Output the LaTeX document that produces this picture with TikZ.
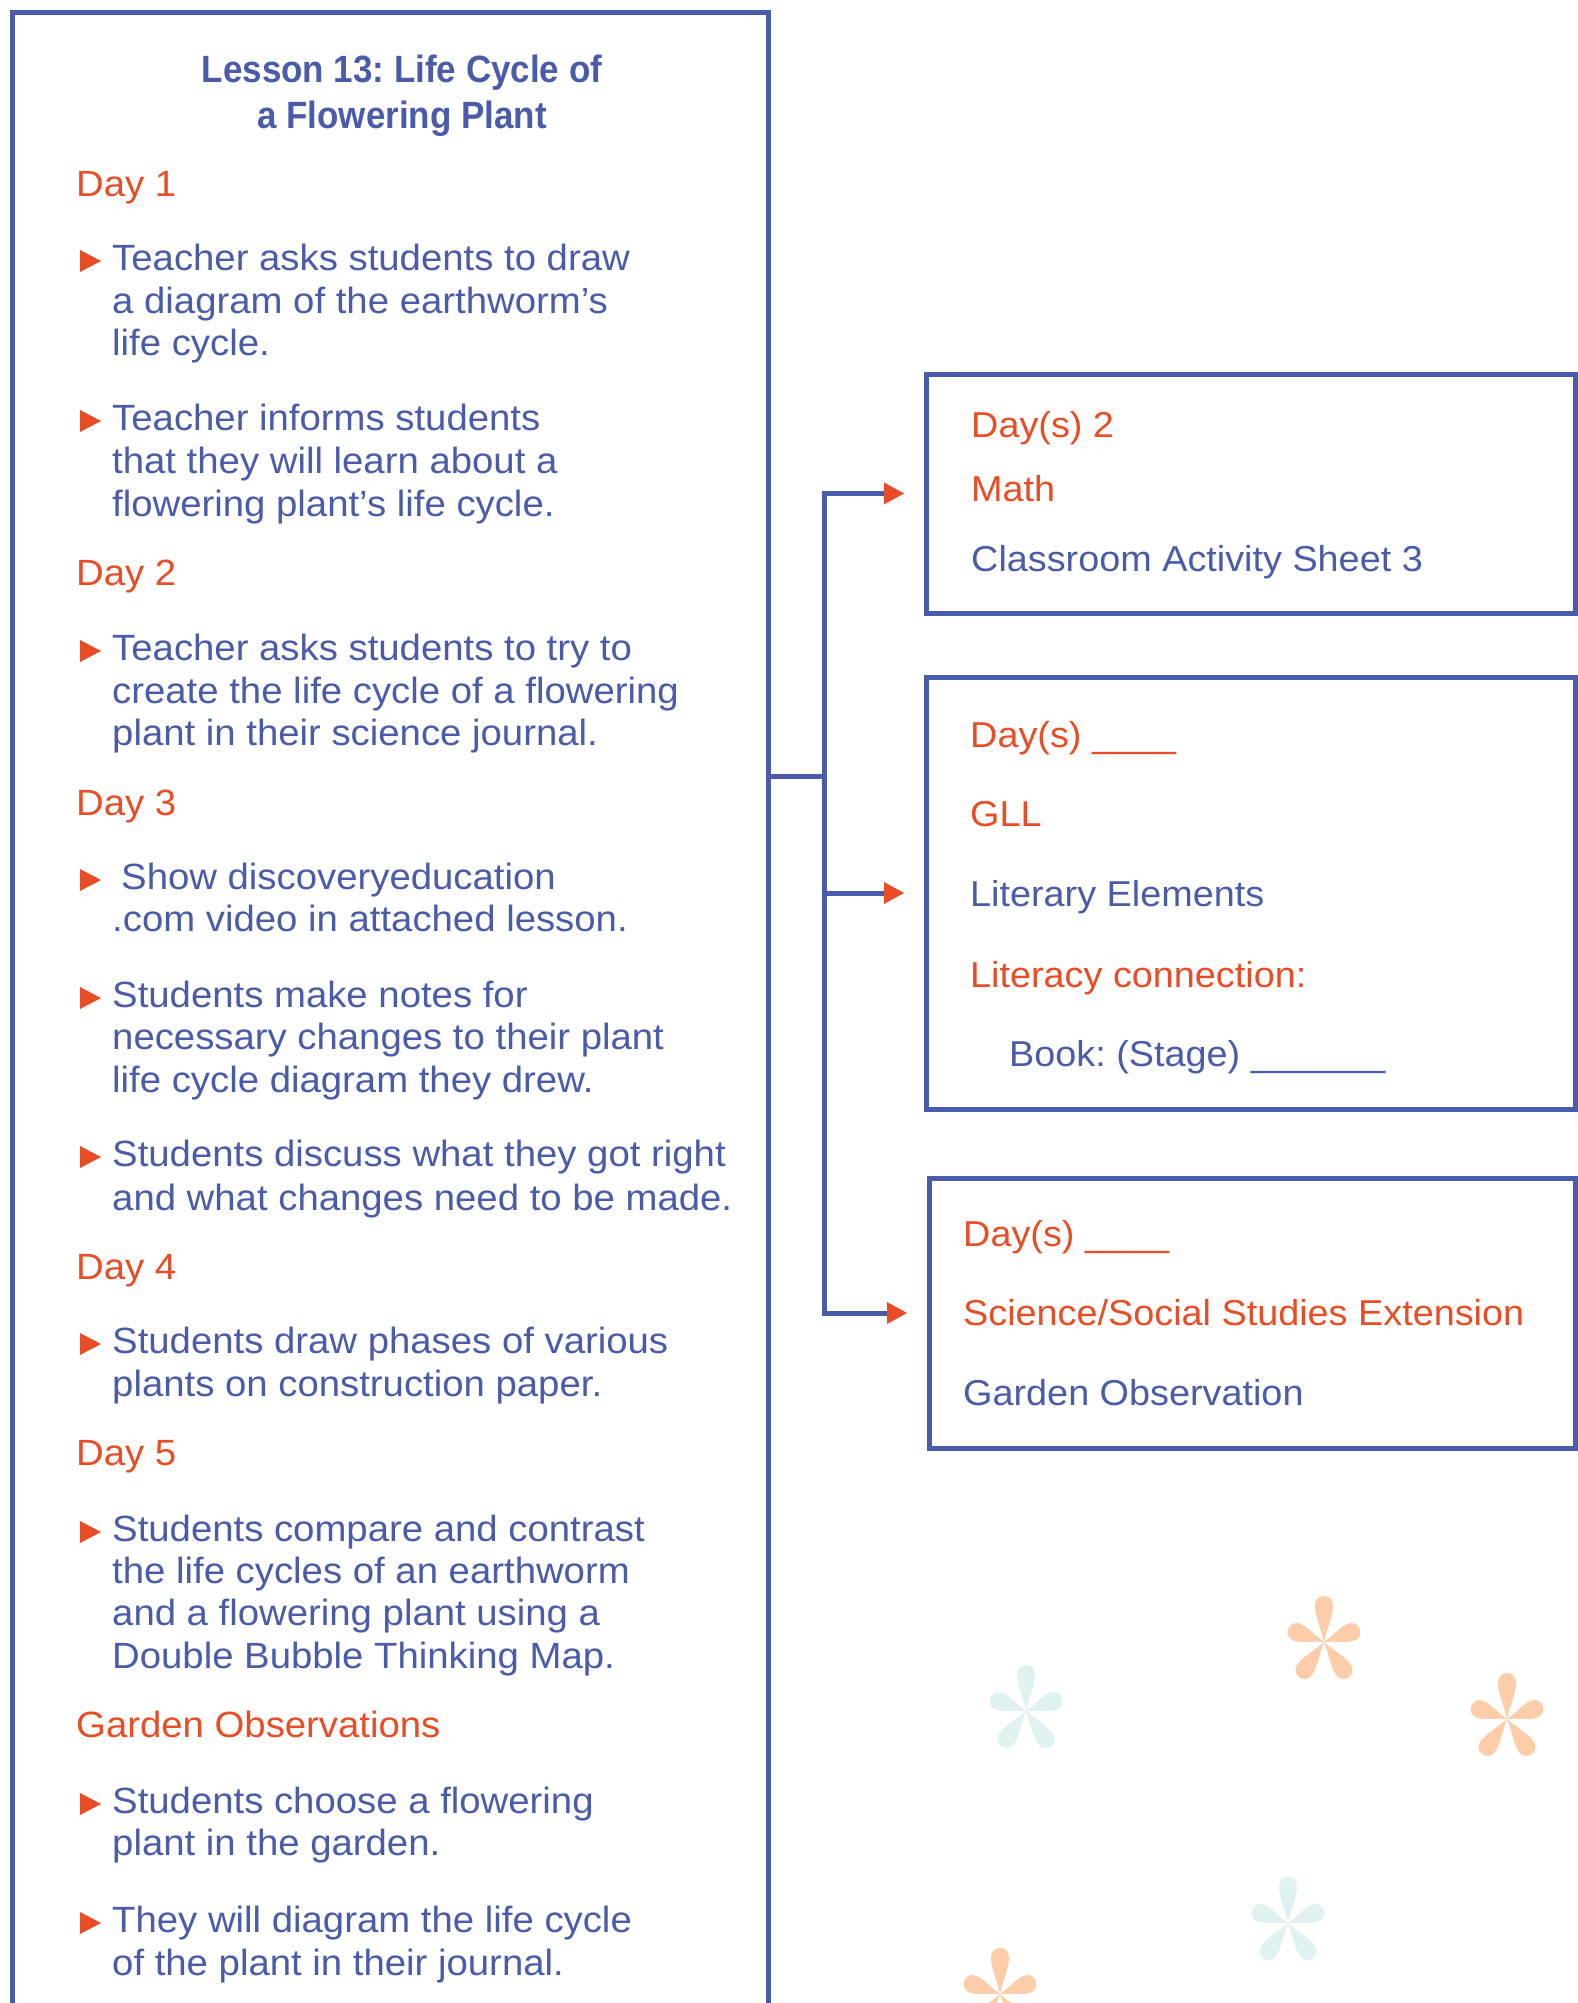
\documentclass[tikz,border=0pt]{standalone}
\usepackage{fontspec}
\newfontfamily\bodyfont{Liberation Sans}[FakeStretch=1.05]
\newfontfamily\titlefont{Liberation Sans}[FakeStretch=0.92]
\usetikzlibrary{arrows.meta}
\frenchspacing

\definecolor{ink}{HTML}{4A5BA9}
\definecolor{accent}{HTML}{E84D25}
\definecolor{peach}{HTML}{FCCDA8}
\definecolor{mint}{HTML}{DFF1F1}

\tikzset{
  frame/.style={draw=ink, line width=5pt, rectangle, inner sep=0pt, outer sep=0pt},
  title/.style={anchor=base, inner sep=0pt, text=ink,
    font=\titlefont\bfseries\fontsize{38}{46}\selectfont},
  body/.style={anchor=base west, inner sep=0pt, text=ink,
    font=\bodyfont\fontsize{36.5}{43}\selectfont},
  dayhead/.style={body, text=accent},
  boxtext/.style={anchor=base west, inner sep=0pt, text=ink,
    font=\bodyfont\fontsize{36}{43}\selectfont},
  boxhead/.style={boxtext, text=accent},
  link/.style={draw=ink, line width=5pt},
  feed/.style={link, shorten >=22pt,
    -{Triangle[length=20pt, width=22pt, line width=0pt, color=accent, fill=accent]}},
  % five rounded petals: long top arm, shorter side and lower arms
  asterisk/.pic={
    \foreach \a/\l in {0/46, -70/38, 70/38, -145/43, 145/43}
      \fill[#1, rotate=\a] (0,0) .. controls (-3,{-0.3*\l}) and (-9,{-0.55*\l}) .. (-9,{9-\l})
        .. controls (-9,{-\l-3}) and (9,{-\l-3}) .. (9,{9-\l})
        .. controls (9,{-0.55*\l}) and (3,{-0.3*\l}) .. (0,0) -- cycle;
  },
}

\newcommand{\blank}[1]{\scalebox{0.8}[1]{#1}}

\begin{document}
\begin{tikzpicture}[x=1pt, y=-1pt]
  \useasboundingbox (0,0) rectangle (1578,2003);
  \fill[white] (0,0) rectangle (1578,2003);
  \clip (0,0) rectangle (1578,2003);

  % decorative asterisks
  \pic at (1324,1642) {asterisk=peach};
  \pic at (1507,1719) {asterisk=peach};
  \pic at (1026,1711) {asterisk=mint};
  \pic at (1288,1923) {asterisk=mint};
  \pic at (1000,1994) {asterisk=peach};

  % lesson column
  \node[frame, minimum width=756pt, minimum height=2028pt] (L) at (390,1026) {};
  \node[title] (t1) at (402,82) {Lesson 13: Life Cycle of};
  \node[title] (t2) at (402,128) {a Flowering Plant};

  \node[dayhead] (d1) at (76,196) {Day 1};
  \node[dayhead] (d2) at (76,585) {Day 2};
  \node[dayhead] (d3) at (76,815) {Day 3};
  \node[dayhead] (d4) at (76,1279) {Day 4};
  \node[dayhead] (d5) at (76,1465) {Day 5};
  \node[dayhead] (d6) at (76,1737) {Garden Observations};

  \foreach \y/\t [count=\i] in {
      270/{Teacher asks students to draw},
      313/{a diagram of the earthworm’s},
      355/{life cycle.},
      430/{Teacher informs students},
      473/{that they will learn about a},
      516/{flowering plant’s life cycle.},
      660/{Teacher asks students to try to},
      703/{create the life cycle of a flowering},
      745/{plant in their science journal.},
      889/{\hspace{9pt}Show discoveryeducation},
      931/{.com video in attached lesson.},
      1007/{Students make notes for},
      1049/{necessary changes to their plant},
      1092/{life cycle diagram they drew.},
      1166/{Students discuss what they got right},
      1210/{and what changes need to be made.},
      1353/{Students draw phases of various},
      1396/{plants on construction paper.},
      1541/{Students compare and contrast},
      1583/{the life cycles of an earthworm},
      1625/{and a flowering plant using a},
      1668/{Double Bubble Thinking Map.},
      1813/{Students choose a flowering},
      1855/{plant in the garden.},
      1932/{They will diagram the life cycle},
      1975/{of the plant in their journal.}}
    \node[body] (ln\i) at (112,\y) {\t};

  % bullet markers
  \foreach \y in {270,430,660,889,1007,1166,1353,1541,1813,1932}
    \fill[accent] (80,\y-20) -- (101,\y-9) -- (80,\y+2) -- cycle;

  % activity boxes
  \node[frame, minimum width=649pt, minimum height=239pt] (b1) at (1250.5,493.5) {};
  \node[boxhead] (b1a) at (971,437) {Day(s) 2};
  \node[boxhead] (b1b) at (971,501) {Math};
  \node[boxtext] (b1c) at (971,571) {Classroom Activity Sheet 3};

  \node[frame, minimum width=649pt, minimum height=432pt] (b2) at (1250.5,893) {};
  \node[boxhead] (b2a) at (970,747) {Day(s) \blank{\_\_\_\_\_}};
  \node[boxhead] (b2b) at (970,826) {GLL};
  \node[boxtext] (b2c) at (970,906) {Literary Elements};
  \node[boxhead] (b2d) at (970,987) {Literacy connection:};
  \node[boxtext] (b2e) at (1009,1066) {Book: (Stage) \blank{\_\_\_\_\_\_\_\_}};

  \node[frame, minimum width=646pt, minimum height=270pt] (b3) at (1252,1313) {};
  \node[boxhead] (b3a) at (963,1246) {Day(s) \blank{\_\_\_\_\_}};
  \node[boxhead] (b3b) at (963,1325) {Science/Social Studies Extension};
  \node[boxtext] (b3c) at (963,1405) {Garden Observation};

  % connectors
  \coordinate (fork) at (824,776);
  \draw[link] (L.east |- fork) -- (fork);
  \draw[link, line cap=rect] (fork |- b1.west) -- (fork |- b3.west);
  \draw[feed] (fork |- b1.west) -- (b1.west);
  \draw[feed] (fork |- b2.west) -- (b2.west);
  \draw[feed] (fork |- b3.west) -- (b3.west);
\end{tikzpicture}
\end{document}
